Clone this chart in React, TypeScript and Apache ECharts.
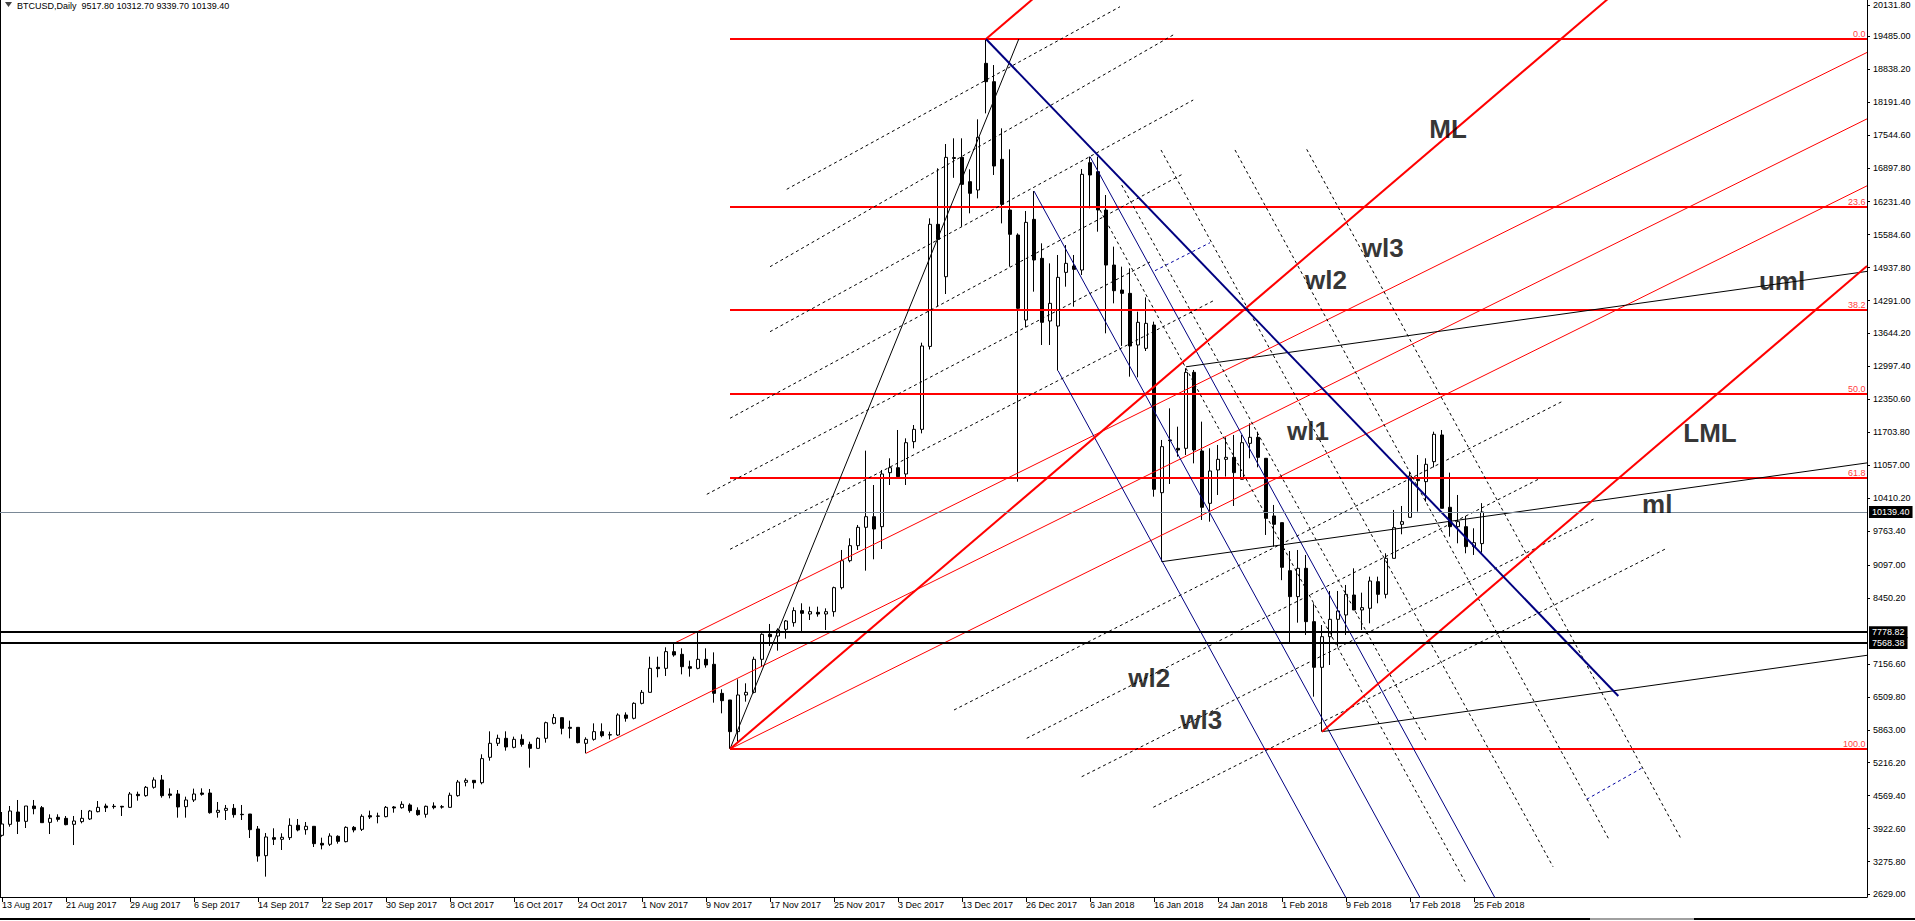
import React, { useEffect, useRef } from "react";
import * as echarts from "echarts";

const FONT = '"Liberation Sans", Arial, sans-serif';

const headerText = "BTCUSD,Daily  9517.80 10312.70 9339.70 10139.40";

const xTickLabels = [
  "13 Aug 2017", "21 Aug 2017", "29 Aug 2017", "6 Sep 2017", "14 Sep 2017", "22 Sep 2017",
  "30 Sep 2017", "8 Oct 2017", "16 Oct 2017", "24 Oct 2017", "1 Nov 2017", "9 Nov 2017",
  "17 Nov 2017", "25 Nov 2017", "3 Dec 2017", "13 Dec 2017", "26 Dec 2017", "6 Jan 2018",
  "16 Jan 2018", "24 Jan 2018", "1 Feb 2018", "9 Feb 2018", "17 Feb 2018", "25 Feb 2018",
];
const xTickStep = 8;

// tick positions (price) and the printed labels
const yTickValues = [
  2629.0, 3275.8, 3922.6, 4569.4, 5216.2, 5863.0, 6509.8, 7156.6, 8450.2, 9097.0, 9763.4,
  10410.2, 11057.0, 11703.8, 12350.6, 12997.4, 13644.2, 14291.0, 14937.8, 15584.6, 16231.4,
  16897.8, 17544.6, 18191.4, 18838.2, 19485.0, 20084.0,
];
const yTickLabels = [
  "2629.00", "3275.80", "3922.60", "4569.40", "5216.20", "5863.00", "6509.80", "7156.60",
  "8450.20", "9097.00", "9763.40", "10410.20", "11057.00", "11703.80", "12350.60", "12997.40",
  "13644.20", "14291.00", "14937.80", "15584.60", "16231.40", "16897.80", "17544.60",
  "18191.40", "18838.20", "19485.00", "20131.80",
];

const opens = [
  3790, 4006, 4248, 4065, 4366, 4333, 4045, 4144, 4124, 4006,
  4059, 4111, 4255, 4366, 4360, 4360, 4340, 4595, 4569, 4733,
  4877, 4602, 4602, 4353, 4484, 4621, 4621, 4242, 4281, 4320,
  4203, 4209, 3915, 3391, 3745, 3712, 3745, 3987, 3901, 3967,
  3633, 3614, 3771, 3666, 3947, 3908, 4176, 4170, 4157, 4347,
  4333, 4386, 4281, 4203, 4366, 4350, 4340, 4569, 4831, 4870,
  4824, 5322, 5597, 5695, 5518, 5675, 5577, 5498, 5695, 5989,
  6101, 5911, 5911, 5597, 5675, 5826, 5760, 5760, 6153, 6088,
  6382, 6598, 7089, 7069, 7397, 7344, 7102, 7069, 7246, 7148,
  6578, 6448, 5826, 6546, 6598, 7246, 7737, 7704, 7835, 7966,
  8202, 8136, 8169, 8136, 8182, 8653, 9183, 9478, 9838, 10047,
  9851, 10911, 11009, 10885, 11520, 11762, 13390, 15787, 14759, 17080,
  17102, 16625, 16461, 18948, 18588, 17063, 16068, 15577, 13908, 15885,
  15119, 13889, 13790, 14844, 14969, 14890, 16998, 16821, 16068, 14988,
  14497, 14432, 13418, 13352, 13810, 10518, 11553, 11389, 11389, 12881,
  11337, 10309, 10964, 11173, 11212, 10781, 11487, 11605, 11193, 10061,
  9930, 8987, 8477, 9033, 7986, 7089, 7691, 8032, 8117, 8509,
  8215, 8248, 8771, 8522, 9229, 9897, 10034, 10781, 10735, 11127,
  11651, 10231, 9851, 9851, 9459, 9518,
];
const highs = [
  4248, 4366, 4484, 4366, 4484, 4366, 4203, 4203, 4170, 4170,
  4288, 4288, 4464, 4412, 4405, 4360, 4641, 4648, 4759, 4929,
  4975, 4713, 4680, 4549, 4707, 4713, 4700, 4445, 4386, 4405,
  4386, 4209, 3973, 3836, 3928, 3830, 4124, 4111, 4052, 3967,
  3744, 3830, 3790, 3967, 3973, 4203, 4275, 4235, 4366, 4366,
  4458, 4418, 4340, 4373, 4438, 4386, 4628, 4877, 4910, 4870,
  5381, 5832, 5767, 5832, 5728, 5773, 5629, 5715, 6022, 6173,
  6101, 6042, 5911, 5715, 5989, 5989, 5826, 6186, 6205, 6402,
  6644, 7298, 7298, 7482, 7560, 7462, 7220, 7789, 7462, 7383,
  6657, 6448, 6853, 6775, 7298, 7757, 7940, 7855, 8018, 8267,
  8346, 8280, 8280, 8247, 8673, 9393, 9622, 9884, 11343, 10669,
  10964, 11193, 11749, 11585, 11847, 13463, 15905, 16887, 17364, 17476,
  17476, 16867, 17849, 19426, 18915, 17672, 17260, 15610, 16049, 16441,
  15414, 15021, 15185, 15381, 15185, 16874, 17116, 17116, 16363, 15349,
  14956, 14923, 14072, 14353, 13876, 11553, 12174, 11814, 12960, 12927,
  11913, 11389, 11455, 11605, 11651, 11651, 11880, 11716, 11193, 10277,
  9930, 9373, 9393, 9295, 8346, 7920, 8588, 8588, 8706, 9033,
  8555, 8869, 8869, 9328, 10179, 10257, 10931, 11258, 11193, 11716,
  11749, 10911, 10473, 10061, 9819, 10313,
];
const lows = [
  3764, 3960, 3816, 3934, 4203, 4039, 3816, 4059, 3987, 3600,
  4026, 4091, 4242, 4248, 4314, 4170, 4327, 4471, 4549, 4707,
  4530, 4517, 4137, 4137, 4445, 4569, 4216, 4137, 4091, 4137,
  4091, 3738, 3273, 2979, 3600, 3502, 3699, 3869, 3803, 3561,
  3515, 3581, 3627, 3653, 3849, 3875, 4111, 4026, 4144, 4235,
  4314, 4235, 4176, 4137, 4301, 4314, 4340, 4549, 4752, 4707,
  4792, 5256, 5544, 5453, 5499, 5531, 5119, 5498, 5610, 5970,
  5773, 5695, 5597, 5400, 5649, 5715, 5675, 5741, 6022, 6068,
  6362, 6598, 6893, 6919, 7298, 6951, 6906, 7050, 7082, 6395,
  6186, 5490, 5629, 6415, 6578, 7102, 7508, 7416, 7652, 7887,
  7802, 8018, 8084, 7822, 8084, 8620, 9151, 9393, 8987, 9210,
  9412, 10669, 10820, 10669, 11389, 11683, 13330, 14183, 14419, 16700,
  15741, 16003, 16297, 17966, 16756, 15806, 14956, 10734, 13765, 14465,
  13418, 13418, 12914, 14563, 14170, 14792, 16101, 15643, 13647, 14236,
  13400, 12796, 12783, 13300, 10440, 9164, 10689, 11225, 11258, 11094,
  9982, 9949, 10473, 10833, 10257, 10781, 11193, 11016, 9688, 9459,
  8800, 7560, 7966, 7724, 6513, 5826, 7135, 7495, 7724, 8215,
  7822, 7953, 8346, 8444, 9229, 9701, 10034, 10146, 10342, 11016,
  10211, 9655, 9524, 9328, 9295, 9340,
];
const closes = [
  4013, 4268, 4065, 4366, 4314, 4039, 4124, 4104, 4000, 4072,
  4124, 4268, 4340, 4333, 4355, 4347, 4602, 4569, 4733, 4877,
  4569, 4576, 4347, 4484, 4602, 4595, 4235, 4281, 4320, 4196,
  4196, 3901, 3384, 3758, 3712, 3751, 3987, 3895, 3967, 3627,
  3600, 3777, 3672, 3947, 3895, 4163, 4150, 4165, 4340, 4327,
  4399, 4275, 4196, 4360, 4333, 4345, 4576, 4837, 4870, 4824,
  5296, 5597, 5695, 5525, 5675, 5577, 5498, 5695, 6002, 6101,
  5891, 5891, 5610, 5675, 5826, 5747, 5767, 6153, 6088, 6382,
  6598, 7069, 7063, 7397, 7331, 7102, 7069, 7246, 7135, 6578,
  6434, 5826, 6546, 6598, 7246, 7737, 7691, 7822, 7999, 8202,
  8149, 8182, 8136, 8182, 8653, 9183, 9478, 9838, 10047, 9805,
  10885, 11009, 10833, 11500, 11762, 13398, 15787, 15492, 17102, 17100,
  16572, 16396, 17495, 18588, 16932, 16180, 15591, 14138, 15826, 15087,
  13863, 14236, 14746, 15021, 14903, 16769, 16756, 16069, 14988, 14484,
  14432, 13398, 13863, 13843, 10584, 11422, 11540, 11356, 12881, 11356,
  10231, 10944, 11173, 11212, 10912, 11500, 11605, 11212, 10015, 9897,
  9053, 8477, 9033, 7986, 7089, 7691, 8032, 8195, 8522, 8215,
  8261, 8784, 8522, 9229, 9832, 9949, 10846, 10755, 11075, 11664,
  10211, 9851, 9949, 9459, 9537, 10139,
];

const fibLevels = [19426, 16136, 14101, 12456, 10811, 5486];
const fibNames = ["0.0", "23.6", "38.2", "50.0", "61.8", "100.0"];
const fibStartBar = 91;
const lastPrice = 10139.4;
const supportLevels = [7778.82, 7568.38];

// segments: [bar1, price1, bar2, price2]
const thickRedLines = [
  [91, 5486, 233.125, 24560],
  [123, 19426, 233.125, 34205],
  [165, 5826, 233.125, 14968],
];
const thinRedLines = [
  [73, 5400, 233.125, 17858],
  [84, 7560, 233.125, 19162],
  [91, 5486, 233.125, 16543],
];
const navyThickLines = [[123, 19426, 202.04, 6526]];
const navyThinLines = [
  [129, 16441, 179.23, 2000],
  [132, 12914, 169.96, 2000],
  [136, 17116, 188.58, 2000],
];
const blackLines = [
  [91, 5486, 127.1, 19426],
  [145, 9164, 233.125, 11103],
  [148, 12990, 233.125, 14863],
  [165, 5826, 233.125, 7325],
];
const dashedUpLines = [
  [98.09, 16475, 139.75, 20060],
  [96.0, 14955, 146.6, 19524],
  [96.0, 13679, 148.9, 18228],
  [91.0, 11979, 147.6, 16775],
  [88.1, 10486, 143.5, 15047],
  [91.0, 9406, 151.6, 14301],
  [119.0, 6251, 194.96, 12304],
  [128.09, 5695, 192.04, 10781],
  [134.96, 4941, 199.13, 10015],
  [143.91, 4341, 208.09, 9426],
];
const dashedDownLines = [
  [144.875, 17247, 193.875, 3174],
  [154.125, 17247, 200.91, 3699],
  [163.09, 17260, 209.96, 3699],
  [137.25, 16069, 182.875, 2880],
  [139.96, 16559, 178.09, 5629],
];
const navyDashedLines = [
  [144.125, 14877, 151.0, 15426],
  [198.09, 4498, 205.16, 5127],
];

const annotationTexts = ["ML", "uml", "LML", "ml", "wl1", "wl2", "wl3", "wl2", "wl3"];
const annotationBars = [180.75, 222.5, 213.5, 206.9, 163.25, 165.5, 172.6, 143.4, 149.9];
const annotationPrices = [17659, 14675, 11690, 10296, 11729, 14694, 15322, 6879, 6054];

const X_MIN = -0.25;
const X_MAX = 233.125;
const Y_MIN = 2579.3;
const Y_MAX = 20191.9;

function segs(arr: number[][]) {
  return arr.map(([a, b, c, d]) => ({ coords: [[a, b], [c, d]] }));
}

function linesSeries(arr: number[][], color: string, width: number, type: any, z: number) {
  return {
    type: "lines",
    coordinateSystem: "cartesian2d",
    polyline: false,
    clip: true,
    silent: true,
    z,
    lineStyle: { color, width, type, opacity: 1, curveness: 0 },
    data: segs(arr),
  };
}

function buildOption(): any {
  const candleData = opens.map((o, i) => [i, o, closes[i], lows[i], highs[i]]);
  const xTickValues = xTickLabels.map((_, i) => i * xTickStep);
  const fibSegs = fibLevels.map((l) => [fibStartBar, l, X_MAX, l]);

  return {
    animation: false,
    backgroundColor: "#ffffff",
    textStyle: { fontFamily: FONT },
    grid: { left: 0, right: 48, top: 0, bottom: 24, outerBoundsMode: "none", containLabel: false },
    xAxis: {
      type: "value",
      min: X_MIN,
      max: X_MAX,
      splitLine: { show: false },
      axisLine: { show: true, onZero: false, lineStyle: { color: "#000", width: 1 } },
      axisTick: { show: true, length: 5, customValues: xTickValues, lineStyle: { color: "#000" } },
      axisLabel: {
        customValues: xTickValues,
        formatter: (v: number) => xTickLabels[Math.round(v / xTickStep)] ?? "",
        align: "left",
        margin: 3,
        color: "#000",
        fontSize: 9,
        fontFamily: FONT,
      },
    },
    yAxis: [
      {
        type: "value",
        position: "right",
        min: Y_MIN,
        max: Y_MAX,
        splitLine: { show: false },
        axisLine: { show: true, onZero: false, lineStyle: { color: "#000", width: 1 } },
        axisTick: { show: true, inside: false, length: 3, customValues: yTickValues, lineStyle: { color: "#000" } },
        axisLabel: {
          customValues: yTickValues,
          formatter: (v: number) => {
            let best = 0;
            for (let i = 1; i < yTickValues.length; i++) {
              if (Math.abs(yTickValues[i] - v) < Math.abs(yTickValues[best] - v)) best = i;
            }
            return yTickLabels[best];
          },
          color: "#000",
          fontSize: 9,
          fontFamily: FONT,
          margin: 6,
        },
      },
      {
        type: "value",
        position: "left",
        min: Y_MIN,
        max: Y_MAX,
        splitLine: { show: false },
        axisLine: { show: true, onZero: false, lineStyle: { color: "#000", width: 1 } },
        axisTick: { show: false },
        axisLabel: { show: false },
      },
    ],
    series: [
      {
        type: "candlestick",
        name: "BTCUSD",
        data: candleData,
        barWidth: 4,
        silent: true,
        z: 2,
        itemStyle: {
          color: "#ffffff",
          color0: "#000000",
          borderColor: "#000000",
          borderColor0: "#000000",
          borderWidth: 1,
        },
        markLine: {
          silent: true,
          symbol: ["none", "none"],
          animation: false,
          label: {
            show: true,
            position: "end",
            distance: 2,
            formatter: (p: any) => Number(p.value).toFixed(2),
            backgroundColor: "#000",
            color: "#fff",
            fontSize: 9,
            fontFamily: FONT,
            padding: [2, 3, 1, 3],
          },
          data: [
            { yAxis: lastPrice, lineStyle: { color: "#7a8896", width: 1, type: "solid" } },
            ...supportLevels.map((v) => ({ yAxis: v, lineStyle: { color: "#000", width: 2, type: "solid" } })),
          ],
        },
      },
      linesSeries(fibSegs, "#ff0000", 2, "solid", 3),
      linesSeries(thinRedLines, "#ff0000", 1, "solid", 3),
      linesSeries(thickRedLines, "#ff0000", 2, "solid", 4),
      linesSeries(navyThinLines, "#000080", 1, "solid", 3),
      linesSeries(navyThickLines, "#000080", 2, "solid", 4),
      linesSeries(blackLines, "#000000", 1, "solid", 3),
      linesSeries(dashedUpLines, "#000000", 1, [3, 3], 3),
      linesSeries(dashedDownLines, "#000000", 1, [3, 3], 3),
      linesSeries(navyDashedLines, "#0000a0", 1, [3, 3], 3),
      {
        type: "scatter",
        silent: true,
        z: 6,
        symbol: "circle",
        symbolSize: 1,
        itemStyle: { color: "rgba(0,0,0,0)" },
        label: {
          show: true,
          position: "left",
          distance: 0,
          offset: [0, -5],
          formatter: "{b}",
          color: "#ff0000",
          fontSize: 9,
          fontFamily: FONT,
        },
        data: fibNames.map((n, i) => ({ name: n, value: [233.0, fibLevels[i]] })),
      },
      {
        type: "scatter",
        silent: true,
        z: 7,
        symbol: "circle",
        symbolSize: 1,
        itemStyle: { color: "rgba(0,0,0,0)" },
        label: {
          show: true,
          position: "inside",
          formatter: "{b}",
          color: "#000",
          fontSize: 26,
          fontWeight: "bold",
          fontFamily: FONT,
        },
        data: annotationTexts.map((t, i) => ({ name: t, value: [annotationBars[i], annotationPrices[i]] })),
      },
    ],
    graphic: [
      {
        type: "polygon",
        silent: true,
        shape: { points: [[5, 2], [12, 2], [8.5, 7]] },
        style: { fill: "#404040" },
      },
      {
        type: "text",
        silent: true,
        x: 17,
        y: 1,
        style: { text: headerText, fill: "#000", font: `9px ${FONT}`, textVerticalAlign: "top" },
      },
      {
        type: "rect",
        silent: true,
        shape: { x: 0, y: 918, width: 1915, height: 2 },
        style: { fill: "#000" },
      },
      {
        type: "rect",
        silent: true,
        shape: { x: 1590, y: 918, width: 104, height: 2 },
        style: { fill: "#a0a0a0" },
      },
    ],
  };
}

export default function App() {
  const ref = useRef<HTMLDivElement>(null);
  useEffect(() => {
    document.body.style.margin = "0";
    document.body.style.overflow = "hidden";
    const el = ref.current!;
    const chart = echarts.init(el, null, { renderer: "svg", width: 1915, height: 921 });
    chart.setOption(buildOption());
    return () => chart.dispose();
  }, []);
  return (
    <div
      ref={ref}
      style={{ position: "absolute", left: 0, top: 0, width: 1915, height: 921, background: "#fff" }}
    />
  );
}
